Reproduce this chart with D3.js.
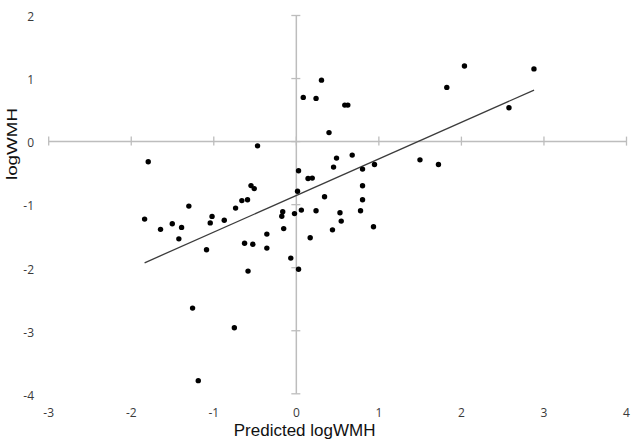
<!DOCTYPE html>
<html>
<head>
<meta charset="utf-8">
<script src="https://cdn.jsdelivr.net/npm/d3@7"></script>
<style>
	body { margin: 0; background: #fff; }
	svg { display: block; }
</style>
</head>
<body>
<svg id="chart" width="638" height="446"></svg>
<script>
const predicted = [
	-1.788, -0.464, 0.090, 0.245, 0.311, 0.593, 0.630, 0.402, 2.043, 2.885,
	1.829, 2.582, 1.504, 1.728, 0.493, 0.683, 0.457, 0.808, 0.953, 0.033,
	0.148, 0.199, -0.543, -0.504, 0.021, 0.808, 0.348, 0.808, -0.654, -0.585,
	-1.296, -0.730, -0.159, -0.170, -0.016, 0.067, 0.245, 0.535, 0.550, 0.784,
	0.941, -0.147, 0.444, -0.351, 0.174, -0.621, -0.521, -0.351, -0.061, 0.033,
	-0.579, -1.832, -1.639, -1.497, -1.384, -1.417, -1.082, -1.015, -1.037, -0.867,
	-1.251, -0.745, -1.182
];
const observed = [
	-0.328, -0.075, 0.693, 0.677, 0.967, 0.571, 0.571, 0.135, 1.190, 1.145,
	0.852, 0.528, -0.297, -0.370, -0.270, -0.222, -0.412, -0.444, -0.370, -0.471,
	-0.592, -0.587, -0.706, -0.753, -0.796, -0.709, -0.883, -0.931, -0.944, -0.931,
	-1.031, -1.063, -1.121, -1.193, -1.150, -1.094, -1.105, -1.137, -1.269, -1.105,
	-1.359, -1.388, -1.408, -1.475, -1.534, -1.621, -1.637, -1.697, -1.856, -2.033,
	-2.062, -1.237, -1.400, -1.312, -1.369, -1.550, -1.724, -1.194, -1.297, -1.256,
	-2.649, -2.961, -3.799
];
// fitted line end points
const trendX = [-1.832, 2.886];
const trendY = [-1.930, 0.809];

const xTicks = [-3, -2, -1, 0, 1, 2, 3, 4];
const yTicks = [-4, -3, -2, -1, 0, 1, 2];

const width = 638;
const height = 446;
const axesColor = "#bdbdbd";
const labelColor = "#3a3a3a";

const svg = d3.select("#chart");
svg.append("rect").attr("width", width).attr("height", height).attr("fill", "#fff");

const xScale = d3.scaleLinear([-3, 4], [48.2, 626]);
const yScale = d3.scaleLinear([-4, 2], [393.3, 15]);

// axes cross at the origin, ticks straddle the line
const xAxis = d3.axisBottom(xScale).tickValues(xTicks).tickSizeInner(4.5).tickSizeOuter(0).tickFormat("");
const yAxis = d3.axisLeft(yScale).tickValues(yTicks).tickSizeInner(4.5).tickSizeOuter(0).tickFormat("");

const gx = svg.append("g")
	.attr("transform", `translate(0,${yScale(0)})`)
	.call(xAxis);
gx.selectAll(".tick line").attr("y1", -4.5).attr("stroke", axesColor).attr("stroke-width", 1.3);
gx.select(".domain").attr("stroke", axesColor).attr("stroke-width", 1.5);
gx.selectAll(".tick text").remove();

const gy = svg.append("g")
	.attr("transform", `translate(${xScale(0)},0)`)
	.call(yAxis);
gy.selectAll(".tick line").attr("x1", 4.5).attr("stroke", axesColor).attr("stroke-width", 1.3);
gy.select(".domain").attr("stroke", axesColor).attr("stroke-width", 1.5);
gy.selectAll(".tick text").remove();

// tick labels sit on the chart edges, not on the axis lines
const minus = d => d < 0 ? "-" + Math.abs(d) : String(d);

const xLabels = svg.append("g")
	.attr("transform", "translate(0,408)")
	.call(d3.axisBottom(xScale).tickValues(xTicks).tickSize(0).tickPadding(0).tickFormat(minus));
xLabels.select(".domain").remove();

const yLabels = svg.append("g")
	.attr("transform", "translate(34,2)")
	.call(d3.axisLeft(yScale).tickValues(yTicks).tickSize(0).tickPadding(0).tickFormat(minus));
yLabels.select(".domain").remove();

[xLabels, yLabels].forEach(g => g.selectAll("text")
	.attr("font-family", "'Open Sans', sans-serif")
	.attr("font-size", 12)
	.attr("fill", labelColor));

// regression line
svg.append("line")
	.attr("x1", xScale(trendX[0]))
	.attr("y1", yScale(trendY[0]))
	.attr("x2", xScale(trendX[1]))
	.attr("y2", yScale(trendY[1]))
	.attr("stroke", "#3c3c3c")
	.attr("stroke-width", 1.3);

svg.append("g")
	.selectAll("circle")
	.data(predicted.map((x, i) => ({ x, y: observed[i] })))
	.join("circle")
	.attr("cx", d => xScale(d.x))
	.attr("cy", d => yScale(d.y))
	.attr("r", 2.7)
	.attr("fill", "#000");

svg.append("text")
	.attr("x", 304.6)
	.attr("y", 436)
	.attr("text-anchor", "middle")
	.attr("font-family", "'Liberation Sans', Arial, sans-serif")
	.attr("font-size", 17)
	.attr("fill", "#111")
	.text("Predicted logWMH");

svg.append("text")
	.attr("transform", "translate(16.5,144) rotate(-90)")
	.attr("text-anchor", "middle")
	.attr("font-family", "'Liberation Sans', Arial, sans-serif")
	.attr("font-size", 14)
	.attr("textLength", 72)
	.attr("lengthAdjust", "spacingAndGlyphs")
	.attr("fill", "#111")
	.text("logWMH");
</script>
</body>
</html>
